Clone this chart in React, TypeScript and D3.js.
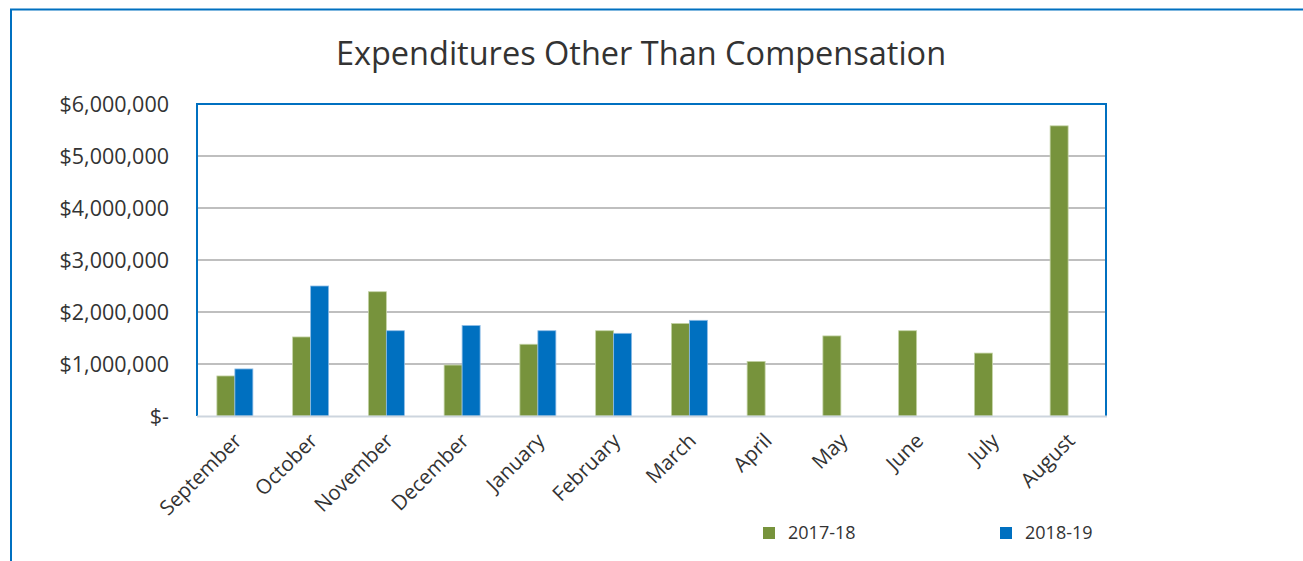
import React from "react";
import * as d3 from "d3";

const months = ["September","October","November","December","January","February","March","April","May","June","July","August"];
const series2017 = [770000,1520000,2390000,980000,1380000,1640000,1780000,1050000,1540000,1640000,1210000,5580000];
const series2018: (number|null)[] = [905000,2500000,1640000,1740000,1640000,1590000,1840000,null,null,null,null,null];
const seriesNames = ["2017-18","2018-19"];
const yTicks = [0,1000000,2000000,3000000,4000000,5000000,6000000];

const W = 1303, H = 561;
const GREEN = "#77933C", BLUE = "#0070C0";
const FONT = "'Open Sans', 'DejaVu Sans', sans-serif";

export default function App() {
  const left = 197, right = 1106, top = 104, bottom = 416;
  const x = d3.scaleBand<string>().domain(months).range([left, right]).paddingInner(0.525).paddingOuter(0.2625);
  const y = d3.scaleLinear().domain([0, 6000000]).range([bottom, top]);
  const bw = x.bandwidth() / 2;
  const fmt = (v: number) => v === 0 ? "$-" : "$" + d3.format(",")(v);
  return (
    <svg width={W} height={H} style={{ position: "absolute", left: 0, top: 0 }} fontFamily={FONT}>
      <rect x={0} y={0} width={W} height={H} fill="#fff" />
      <rect x={11} y={9.5} width={W + 20} height={H + 20} fill="none" stroke={BLUE} strokeWidth={2} />
      <text x={641} y={65} textAnchor="middle" fontSize={32.5} fill="#333">Expenditures Other Than Compensation</text>
      {yTicks.slice(1).map(t => (
        <line key={t} x1={left} x2={right} y1={y(t)} y2={y(t)} stroke="#BFBFBF" strokeWidth={2} />
      ))}
      {yTicks.map(t => (
        <text key={"l" + t} x={169} y={y(t)} dy="0.35em" textAnchor="end" fontSize={21.5} fill="#333">{fmt(t)}</text>
      ))}
      {months.map((m, i) => {
        const x0 = x(m)!;
        const v2 = series2018[i];
        return (
          <g key={m}>
            <rect x={x0} y={y(series2017[i])} width={bw} height={bottom - y(series2017[i])} fill={GREEN} stroke="#C4D3A6" strokeWidth={0.8} />
            {v2 != null && <rect x={x0 + bw} y={y(v2)} width={bw} height={bottom - y(v2)} fill={BLUE} stroke="#8DBCE6" strokeWidth={0.8} />}
          </g>
        );
      })}
      <path d={`M${left},${bottom} V${top} H${right} V${bottom}`} fill="none" stroke={BLUE} strokeWidth={2} />
      <line x1={left} x2={right + 1} y1={bottom + 0.5} y2={bottom + 0.5} stroke="#CDD5DE" strokeWidth={2} />
      {months.map(m => {
        const cx = x(m)! + x.bandwidth() / 2;
        return (
          <text key={"m" + m} transform={`translate(${cx + 8},${bottom + 26}) rotate(-45)`} textAnchor="end" fontSize={20.5} fill="#333">{m}</text>
        );
      })}
      {seriesNames.map((s, i) => {
        const lx = i === 0 ? 763 : 1000;
        return (
          <g key={s}>
            <rect x={lx} y={527} width={12} height={12} fill={i === 0 ? GREEN : BLUE} />
            <text x={lx + 25} y={533} dy="0.35em" fontSize={18} fill="#333">{s}</text>
          </g>
        );
      })}
    </svg>
  );
}
